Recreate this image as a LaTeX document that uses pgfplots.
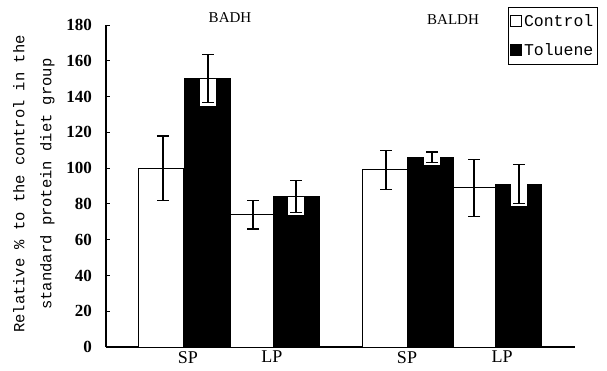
\documentclass[border=0pt]{standalone}
\usepackage{fontspec}
\setmainfont{Liberation Serif}
\newfontfamily\mono{Liberation Mono}
\usepackage{pgfplots}
\pgfplotsset{compat=1.18}
\begin{document}
\begin{tikzpicture}
\begin{axis}[
  at={(0pt,0pt)}, anchor=south west,
  scale only axis, width=469pt, height=322pt,
  xmin=106, xmax=575, ymin=0, ymax=180,
  clip=false,
  axis lines*=left,
  axis line style={line width=1.1pt, black},
  ytick={0,20,...,180},
  xtick={188,272,407,502}, xticklabels={SP,LP,SP,LP},
  major x tick style={draw=none},
  extra x ticks={575}, extra x tick labels={},
  extra x tick style={major tick length=5pt, tick align=inside, tick style={line width=1pt, black}},
  tick align=inside, major tick length=4pt,
  ytick style={line width=0.8pt, black},
  /pgf/number format/assume math mode=true,
  yticklabel style={font=\fontsize{17}{19}\selectfont\bfseries, inner sep=0pt, xshift=-14pt},
  xticklabel style={font=\fontsize{18}{20}\selectfont, inner sep=0pt, yshift=-4pt},
  ylabel={Relative \% to the control in the\\standard protein diet group},
  ylabel style={at={(axis description cs:-0.154,0.506)}, anchor=center, align=center,
    font=\fontsize{15.5}{27}\mono},
  legend style={at={(axis description cs:0.857,1.056)}, anchor=north west, draw=black,
    line width=0.6pt, font=\fontsize{16.5}{18}\mono, inner xsep=2pt, inner ysep=5pt,
    row sep=12pt, cells={anchor=west}},
]
\addplot[ybar, bar width=45, bar shift=0pt, fill=white, draw=black, line width=1pt,
  legend image code/.code={\draw[fill=white,draw=black,line width=0.8pt] (0pt,-5pt) rectangle (11pt,6pt);}]
  coordinates {(161,100) (252,74) (385,99) (474,89)};
\addlegendentry{Control}
\addplot[ybar, bar width=46, bar shift=0pt, fill=black, draw=black, line width=1pt,
  legend image code/.code={\draw[fill=black,draw=black,line width=0.8pt] (0pt,-5pt) rectangle (11pt,6pt);}]
  coordinates {(207.5,150) (296,84) (430,106) (518,91)};
\addlegendentry{Toluene}
% white backing behind error bars on black bars
\addplot[forget plot, only marks, mark=none, mark size=0pt,
  error bars/.cd, y dir=minus, y explicit, error mark=none,
  error bar style={line width=16pt, white}]
  coordinates {(208,150) -= (0,15) (296,84) -= (0,10) (432,106) -= (0,4) (519,91) -= (0,12)};
% error bars
\addplot[forget plot, only marks, mark=none, mark size=0pt,
  error bars/.cd, y dir=both, y explicit,
  error bar style={line width=1.2pt, black},
  error mark options={rotate=90, mark size=6pt, line width=1.2pt, black}]
  coordinates {(163,100) +- (0,18) (208,150) +- (0,13.5) (253,74) +- (0,8) (296,84) +- (0,9)
               (386,99) +- (0,11) (432,106) +- (0,3) (474,89) +- (0,16) (519,91) +- (0,11)};
\node[font=\fontsize{15}{17}\selectfont] at (axis cs:230,184) {BADH};
\node[font=\fontsize{15}{17}\selectfont] at (axis cs:453,183) {BALDH};
\end{axis}
\pgfresetboundingbox
\path (-106pt,-23pt) rectangle (501pt,347pt);
\end{tikzpicture}
\end{document}
